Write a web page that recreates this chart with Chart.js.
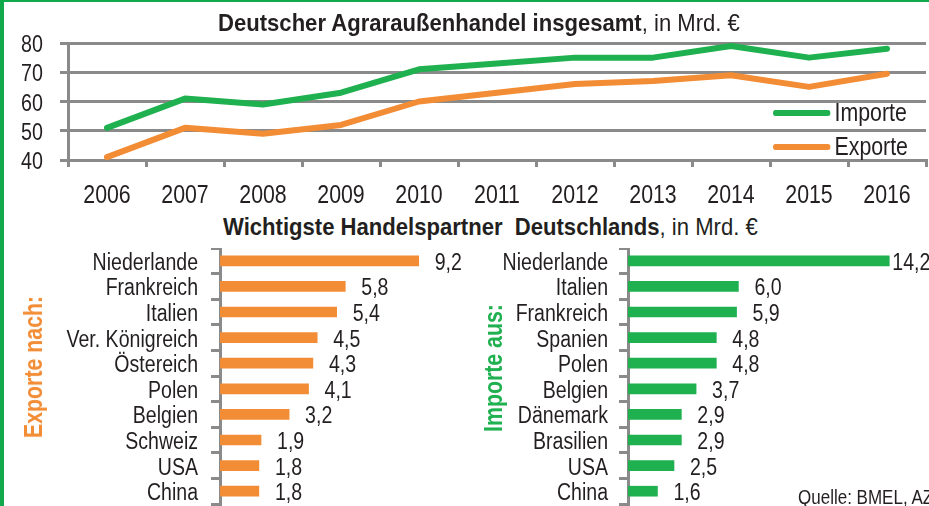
<!DOCTYPE html>
<html lang="de">
<head>
<meta charset="utf-8">
<script src="https://cdn.jsdelivr.net/npm/chart.js@4.4.1/dist/chart.umd.min.js"></script>
<style>
    body { margin: 0; background: #fff; font-family: "Liberation Sans", Arial, sans-serif; color: #231f20; }
    #wrap { position: relative; width: 929px; height: 506px; overflow: hidden; }
    #frame { position: absolute; left: 0; top: 0; width: 929px; height: 506px; box-sizing: border-box; border-top: 2px solid #12a84c; border-left: 4px solid #12a84c; pointer-events: none; }
    canvas { position: absolute; }
    /* schmale Schrift nachbilden */
    .schmal { position: absolute; white-space: nowrap; transform-origin: 0 0; transform: scaleX(0.82); }
    .title { font-size: 24px; line-height: 24px; transform: scaleX(0.92); }
    .side { position: absolute; white-space: nowrap; font-weight: bold; font-size: 26px; line-height: 26px; transform: translate(-50%, -50%) rotate(-90deg) scaleX(0.82); }
    .leg { font-size: 26px; line-height: 26px; }
    .leg i { display: inline-block; width: 70px; height: 6px; border-radius: 3px; vertical-align: middle; margin-right: 5px; position: relative; top: -1px; }
    #quelle { left: 798px; top: 487px; font-size: 20px; line-height: 20px; transform: scaleX(0.85); }
</style>
</head>
<body>
<div id="wrap">
    <canvas id="chart-1" width="929" height="210" style="left:0;top:0"></canvas>
    <canvas id="chart-2" width="470" height="258" style="left:0;top:248px"></canvas>
    <canvas id="chart-3" width="459" height="258" style="left:470px;top:248px"></canvas>

    <div class="schmal title" style="left:218px;top:11px"><b>Deutscher Agraraußenhandel insgesamt</b>, in Mrd. €</div>
    <div class="schmal title" style="left:223px;top:215px"><b>Wichtigste Handelspartner&nbsp; Deutschlands</b>, in Mrd. €</div>

    <div class="side" style="left:33px;top:367px;color:#f28c35">Exporte nach:</div>
    <div class="side" style="left:493px;top:368px;color:#1fb04f">Importe aus:</div>

    <div class="schmal leg" style="left:773px;top:99px"><i style="background:#1fb04f"></i>Importe</div>
    <div class="schmal leg" style="left:773px;top:133px"><i style="background:#f28c35"></i>Exporte</div>

    <div class="schmal" id="quelle">Quelle: BMEL, AZ</div>
    <div id="frame"></div>
</div>

<script>
// Gesamthandel 2006-2016
const years = ['2006', '2007', '2008', '2009', '2010', '2011', '2012', '2013', '2014', '2015', '2016'];
const importe = [51, 61, 59, 63, 71, 73, 75, 75, 79, 75, 78];
const exporte = [41, 51, 49, 52, 60, 63, 66, 67, 69, 65, 69.5];
const yTicks = [40, 50, 60, 70, 80];

// Handelspartner
const exportLaender = ['Niederlande', 'Frankreich', 'Italien', 'Ver. Königreich', 'Östereich', 'Polen', 'Belgien', 'Schweiz', 'USA', 'China'];
const exportWerte = [9.2, 5.8, 5.4, 4.5, 4.3, 4.1, 3.2, 1.9, 1.8, 1.8];
const importLaender = ['Niederlande', 'Italien', 'Frankreich', 'Spanien', 'Polen', 'Belgien', 'Dänemark', 'Brasilien', 'USA', 'China'];
const importWerte = [14.2, 6.0, 5.9, 4.8, 4.8, 3.7, 2.9, 2.9, 2.5, 1.6];

const GRUEN = '#1fb04f';
const ORANGE = '#f28c35';
const GRAU = '#8a8a8a';
const TEXT = '#231f20';
const FONT = '"Liberation Sans", Arial, sans-serif';

Chart.defaults.font.family = FONT;
Chart.defaults.color = TEXT;

// Text schmal zeichnen (Canvas), Original ist eine Condensed-Schrift
function textSchmal(ctx, text, x, y, align, size, sx) {
    ctx.save();
    ctx.font = size + 'px ' + FONT;
    ctx.fillStyle = TEXT;
    ctx.textAlign = align;
    ctx.textBaseline = 'alphabetic';
    ctx.translate(x, y);
    ctx.scale(sx, 1);
    ctx.fillText(text, 0, 0);
    ctx.restore();
}

// Achsenbeschriftung Linienchart
const linienLabels = {
    id: 'linienLabels',
    afterDraw(chart) {
        const ctx = chart.ctx;
        const xs = chart.scales.x;
        const ys = chart.scales.y;
        xs.ticks.forEach((t, i) => {
            textSchmal(ctx, xs.getLabelForValue(t.value), xs.getPixelForTick(i), 203, 'center', 26, 0.82);
        });
        ys.ticks.forEach((t) => {
            textSchmal(ctx, String(t.value), 43, ys.getPixelForValue(t.value) + 9, 'right', 24, 0.82);
        });
    }
};

// Linienchart oben
new Chart(document.getElementById('chart-1'), {
    type: 'line',
    data: {
        labels: years,
        datasets: [
            { label: 'Importe', data: importe, borderColor: GRUEN, borderWidth: 6 },
            { label: 'Exporte', data: exporte, borderColor: ORANGE, borderWidth: 6 }
        ]
    },
    options: {
        responsive: false,
        animation: false,
        devicePixelRatio: 1,
        layout: { padding: { top: 43, right: 3, left: 0, bottom: 0 } },
        elements: {
            point: { radius: 0 },
            line: { tension: 0, borderCapStyle: 'round', borderJoinStyle: 'round' }
        },
        plugins: { legend: { display: false }, title: { display: false }, tooltip: { enabled: false } },
        scales: {
            x: {
                offset: true,
                grid: { offset: true, drawOnChartArea: false, drawTicks: true, tickLength: 7, color: GRAU, lineWidth: 3 },
                border: { color: GRAU, width: 3 },
                ticks: { display: false, autoSkip: false },
                afterFit: (scale) => { scale.height = 50; }
            },
            y: {
                min: 40,
                max: 80,
                afterBuildTicks: (scale) => { scale.ticks = yTicks.map(v => ({ value: v })); },
                grid: { color: GRAU, lineWidth: 3, tickLength: 8 },
                border: { color: GRAU, width: 3 },
                ticks: { display: false, autoSkip: false },
                afterFit: (scale) => { scale.width = 68; }
            }
        }
    },
    plugins: [linienLabels]
});

// Länder links der Achse und Werte hinter den Balken
const balkenLabels = {
    id: 'balkenLabels',
    afterDraw(chart, args, opts) {
        const ctx = chart.ctx;
        const ys = chart.scales.y;
        const werte = chart.data.datasets[0].data;
        ys.ticks.forEach((t, i) => {
            textSchmal(ctx, ys.getLabelForValue(t.value), ys.right - opts.abstand, ys.getPixelForTick(i) + 9, 'right', 23, 0.85);
        });
        chart.getDatasetMeta(0).data.forEach((bar, i) => {
            let x = bar.x + 16;
            // passt der Wert nicht mehr hinein, rückt er dicht an den Balken
            if (x + 30 > chart.width) x = bar.x + 3;
            textSchmal(ctx, werte[i].toFixed(1).replace('.', ','), x, bar.y + 9, 'left', 23, 0.85);
        });
    }
};

function createBarChart(id, labels, werte, farbe, max, achseBreite, rechts, abstand) {
    new Chart(document.getElementById(id), {
        type: 'bar',
        data: {
            labels: labels,
            datasets: [{ data: werte, backgroundColor: farbe, barThickness: 10 }]
        },
        options: {
            indexAxis: 'y',
            responsive: false,
            animation: false,
            devicePixelRatio: 1,
            layout: { padding: { top: 0, right: rechts, left: 0, bottom: 2 } },
            plugins: {
                legend: { display: false },
                tooltip: { enabled: false },
                balkenLabels: { abstand: abstand }
            },
            scales: {
                x: { display: false, min: 0, max: max },
                y: {
                    offset: true,
                    grid: { offset: true, drawOnChartArea: false, tickLength: 9, color: GRAU, lineWidth: 3 },
                    border: { color: GRAU, width: 3 },
                    ticks: { display: false, autoSkip: false },
                    afterFit: (scale) => { scale.width = achseBreite; }
                }
            }
        },
        plugins: [balkenLabels]
    });
}

createBarChart('chart-2', exportLaender, exportWerte, ORANGE, 10, 220, 34, 22);
createBarChart('chart-3', importLaender, importWerte, GRUEN, 15, 158, 25, 20);
</script>
</body>
</html>
